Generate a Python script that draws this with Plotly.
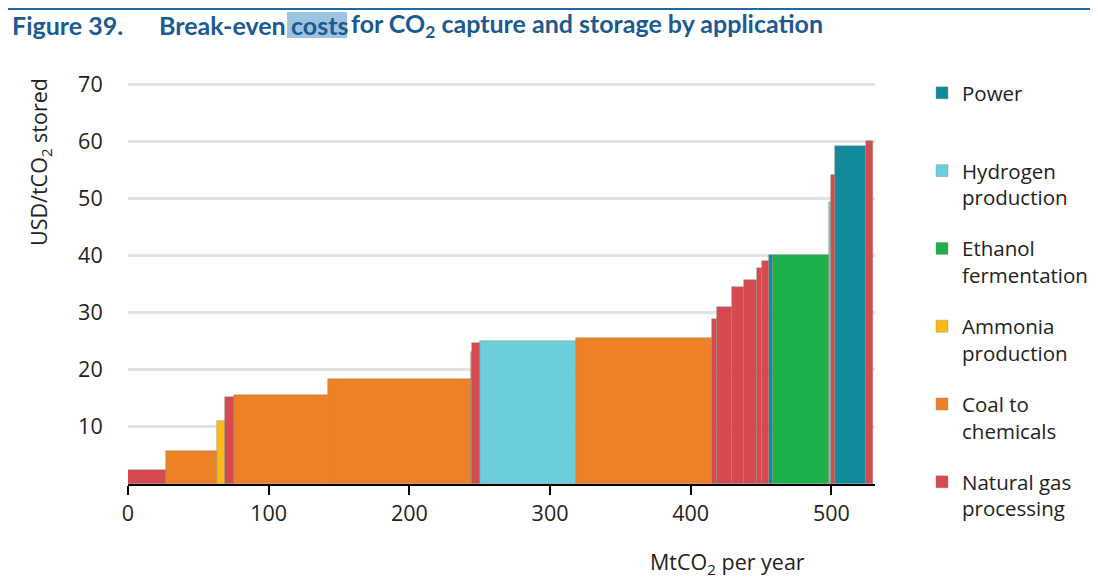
import numpy as np
import plotly.graph_objects as go

# ---------------- data ----------------
categories = ["Power", "Hydrogen production", "Ethanol fermentation",
              "Ammonia production", "Coal to chemicals", "Natural gas processing"]
legend_labels = ["Power<br>\u00a0", "Hydrogen<br>production", "Ethanol<br>fermentation",
                 "Ammonia<br>production", "Coal to<br>chemicals", "Natural gas<br>processing"]
category_colors = ["#138A9B", "#6CCDDD", "#1DB04B", "#FDB915", "#EE8126", "#D6494E"]

# segments of the cost curve, in order of increasing cost
segment_category = ["Natural gas processing", "Coal to chemicals", "Ammonia production",
                    "Natural gas processing", "Coal to chemicals", "Coal to chemicals",
                    "Natural gas processing", "Natural gas processing", "Hydrogen production",
                    "Coal to chemicals", "Natural gas processing", "Natural gas processing",
                    "Natural gas processing", "Natural gas processing", "Natural gas processing",
                    "Natural gas processing", "Power", "Ethanol fermentation",
                    "Hydrogen production", "Natural gas processing", "Power",
                    "Natural gas processing"]
segment_volume = [27, 36, 6, 6.5, 66.5, 101.5, 1, 5.5, 68.5, 96.8, 3.5, 10.5,
                  8.7, 9.3, 3.1, 5.4, 2.8, 39.8, 1.4, 2.8, 22.1, 4.6]   # MtCO2 per year
segment_cost = [2.4, 5.7, 11.1, 15.3, 15.5, 18.4, 23.1, 24.6, 25.0, 25.5, 28.8, 30.9,
                34.4, 35.7, 37.8, 39.0, 40.1, 40.0, 49.3, 54.1, 59.2, 60.1]  # USD/tCO2

x_tick_values = [0, 100, 200, 300, 400, 500]
y_tick_values = [10, 20, 30, 40, 50, 60, 70]

# ---------------- layout geometry ----------------
OFF = 8  # default page body margin
W, H = 1098 - OFF, 578 - OFF
PL, PR, PT, PB = 128, 875, 78, 484          # plot area in window pixels
ML, MR, MT, MB = PL - OFF, W - (PR - OFF), PT - OFF, H - (PB - OFF)
PW, PH = W - ML - MR, H - MT - MB


def px_x(p):
    return (p - OFF - ML) / PW


def px_y(p):
    return (H - MB - (p - OFF)) / PH


vol = np.array(segment_volume, dtype=float)
cost = np.array(segment_cost, dtype=float)
right = np.cumsum(vol)
left = right - vol
mid = (left + right) / 2
cats = np.array(segment_category)

fig = go.Figure()
for cat, lab, col in zip(categories, legend_labels, category_colors):
    m = cats == cat
    fig.add_trace(go.Bar(
        x=mid[m], y=cost[m], width=vol[m], base=0,
        name=lab, marker=dict(color=col, line=dict(color="rgba(125,150,130,0.7)", width=0.6)),
        legendgroup=cat,
    ))

title_color = "#1B5A92"
title_font = dict(family="Lato", size=25, color=title_color)
axis_font = dict(family="Open Sans", size=21.5, color="#222")
legend_font = dict(family="Open Sans", size=20.5, color="#222")
ann = [
    dict(text="<b>Figure 39.</b>", x=px_x(10), y=px_y(25), xanchor="left", yanchor="middle",
         font=title_font),
    dict(text="<b>Break-even</b>", x=px_x(157), y=px_y(25), xanchor="left", yanchor="middle",
         font=title_font),
    dict(text="<b>costs</b>", x=px_x(289), y=px_y(25), xanchor="left", yanchor="middle",
         font=title_font),
    dict(text="<b>for CO<sub>2</sub> capture and storage by application</b>", x=px_x(349),
         y=px_y(25), xanchor="left", yanchor="middle", font=title_font),
    dict(text="USD/tCO<sub>2</sub> stored", x=px_x(40), y=px_y(162), textangle=-90,
         xanchor="center", yanchor="middle", font=axis_font),
    dict(text="MtCO<sub>2</sub> per year", x=px_x(727), y=px_y(563), xanchor="center",
         yanchor="middle", font=axis_font),
]
for a in ann:
    a.update(xref="paper", yref="paper", showarrow=False)

shapes = [
    dict(type="rect", xref="paper", yref="paper", x0=px_x(287), x1=px_x(347),
         y0=px_y(38), y1=px_y(12), fillcolor="#9DC3E0", line=dict(width=0), layer="below"),
    dict(type="line", xref="paper", yref="paper", x0=px_x(0), x1=px_x(1098),
         y0=px_y(9), y1=px_y(9), line=dict(color="#1F6AA5", width=2)),
]

fig.update_layout(
    width=W, height=H,
    margin=dict(l=ML, r=MR, t=MT, b=MB, autoexpand=False),
    paper_bgcolor="white", plot_bgcolor="white",
    barmode="overlay", bargap=0,
    showlegend=True,
    legend=dict(x=px_x(922), y=px_y(73), xanchor="left", yanchor="top",
                traceorder="grouped", tracegroupgap=21.5, valign="top",
                font=legend_font, bgcolor="rgba(0,0,0,0)", maxheight=560),
    annotations=ann, shapes=shapes,
    font=dict(family="Open Sans", size=21.5, color="#222"),
)
fig.update_xaxes(range=[0, 531], tickvals=x_tick_values, ticks="outside", ticklen=9,
                 tickwidth=2, tickcolor="black", showline=True, linecolor="black",
                 linewidth=2, showgrid=False, zeroline=False, tickfont=axis_font)
fig.update_yaxes(range=[0, 71.05], tickvals=y_tick_values, ticks="outside", ticklen=20,
                 tickcolor="rgba(0,0,0,0)", showline=False, showgrid=True,
                 gridcolor="#E3E3E3", gridwidth=3, zeroline=False, tickfont=axis_font)

fig.write_html("out.html")
